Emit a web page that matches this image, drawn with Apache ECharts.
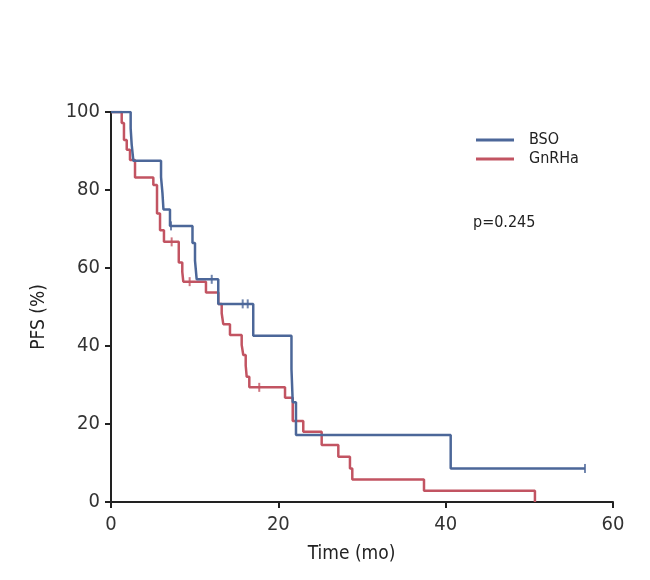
<!DOCTYPE html>
<html><head><meta charset="utf-8">
<script src="https://cdn.jsdelivr.net/npm/echarts@6/dist/echarts.min.js"></script>
<style>html,body{margin:0;padding:0;background:#fff}#c{width:650px;height:580px}</style>
</head><body><div id="c"></div>
<script>
// BSO: event times (months) and survival (%) after each event
const bsoTimes = [2.35, 2.47, 2.67, 5.98, 6.15, 6.27, 7.05, 9.74, 10.04, 10.24, 12.82, 17.0, 21.57, 21.72, 22.11, 40.6];
const bsoSurv  = [95.8, 91.7, 87.5, 83.3, 79.2, 75.0, 70.8, 66.4, 61.9, 57.1, 50.8, 42.6, 34.1, 25.6, 17.2, 8.6];
const bsoCensorTimes = [7.17, 12.04, 15.74, 16.34, 56.65];
const bsoEnd = 56.65;
// GnRHa
const gnTimes = [1.28, 1.55, 1.88, 2.27, 2.87, 5.06, 5.5, 5.86, 6.33, 8.1, 8.52, 8.64, 11.35, 12.82, 13.23, 13.42, 14.22, 15.62, 15.81, 16.1, 16.22, 16.53, 20.8, 21.72, 22.98, 25.18, 27.17, 28.56, 28.84, 37.41, 50.67];
const gnSurv  = [97.2, 92.8, 90.3, 87.7, 83.2, 81.3, 74.0, 69.7, 66.7, 61.4, 59.0, 56.5, 53.7, 50.8, 48.4, 45.6, 42.8, 40.3, 37.7, 35.0, 32.1, 29.4, 26.7, 20.8, 18.0, 14.6, 11.6, 8.6, 5.8, 2.9, 0];
const gnCensorTimes = [7.25, 9.4, 17.72];
const gnEnd = 50.67;
const xTicks = [0, 20, 40, 60];
const yTicks = [0, 20, 40, 60, 80, 100];
const pText = 'p=0.245';

const BLUE = '#4c6799', RED = '#c25462';
const FONT = '"DejaVu Sans Condensed", "Liberation Sans Narrow", Roboto, sans-serif';

function stepPath(times, surv, end) {
  const pts = [[0, 100]];
  let prev = 100;
  times.forEach((t, i) => { pts.push([t, prev]); pts.push([t, surv[i]]); prev = surv[i]; });
  if (end > times[times.length - 1]) pts.push([end, prev]);
  return pts;
}
function survAt(times, surv, t) {
  let s = 100;
  times.forEach((tt, i) => { if (tt <= t) s = surv[i]; });
  return s;
}
function censorPts(ct, times, surv) { return ct.map(t => [t, survAt(times, surv, t)]); }

const chart = echarts.init(document.getElementById('c'), null, {renderer: 'canvas'});
chart.setOption({
  animation: false,
  grid: {left: 111, right: 37, top: 112, bottom: 78, containLabel: false},
  legend: {
    orient: 'vertical', left: 471, top: 127, itemWidth: 38, itemHeight: 3, itemGap: 3,
    icon: 'rect',
    textStyle: {fontFamily: FONT, fontSize: 16, color: '#222', padding: [0, 0, 0, 10]},
    data: ['BSO', 'GnRHa']
  },
  xAxis: {
    type: 'value', min: 0, max: 60, interval: 20,
    name: 'Time (mo)', nameLocation: 'middle', nameGap: 43,
    nameTextStyle: {fontFamily: FONT, fontSize: 19, color: '#222', padding: [0, 21, 0, 0]},
    axisLine: {lineStyle: {color: '#222', width: 2}},
    axisTick: {length: 6, lineStyle: {color: '#222', width: 2}},
    axisLabel: {fontFamily: FONT, fontSize: 20, color: '#333', margin: 13},
    splitLine: {show: false}
  },
  yAxis: {
    type: 'value', min: 0, max: 100, interval: 20,
    name: 'PFS (%)', nameLocation: 'middle', nameGap: 62, nameRotate: 90,
    nameTextStyle: {fontFamily: FONT, fontSize: 19, color: '#222', padding: [0, 20, 0, 0]},
    axisLine: {show: true, lineStyle: {color: '#222', width: 2}},
    axisTick: {show: true, length: 6, lineStyle: {color: '#222', width: 2}},
    axisLabel: {fontFamily: FONT, fontSize: 20, color: '#333', margin: 11},
    splitLine: {show: false}
  },
  graphic: [{type: 'text', left: 473, top: 215, style: {text: pText, fontFamily: 'DejaVu Sans Condensed, Liberation Sans Narrow, Roboto, sans-serif', fontSize: 16, fill: '#222'}}],
  series: [
    {name: 'BSO', type: 'line', data: stepPath(bsoTimes, bsoSurv, bsoEnd), showSymbol: false, symbol: 'none',
     lineStyle: {color: BLUE, width: 2.5}, itemStyle: {color: BLUE}, z: 3},
    {name: 'GnRHa', type: 'line', data: stepPath(gnTimes, gnSurv, gnEnd), showSymbol: false, symbol: 'none',
     lineStyle: {color: RED, width: 2.5}, itemStyle: {color: RED}, z: 2},
    {name: 'BSO', type: 'scatter', data: censorPts(bsoCensorTimes, bsoTimes, bsoSurv), symbol: 'rect', symbolSize: [2, 9],
     itemStyle: {color: BLUE}, z: 4},
    {name: 'GnRHa', type: 'scatter', data: censorPts(gnCensorTimes, gnTimes, gnSurv), symbol: 'rect', symbolSize: [2, 9],
     itemStyle: {color: RED}, z: 4}
  ]
});
</script></body></html>
